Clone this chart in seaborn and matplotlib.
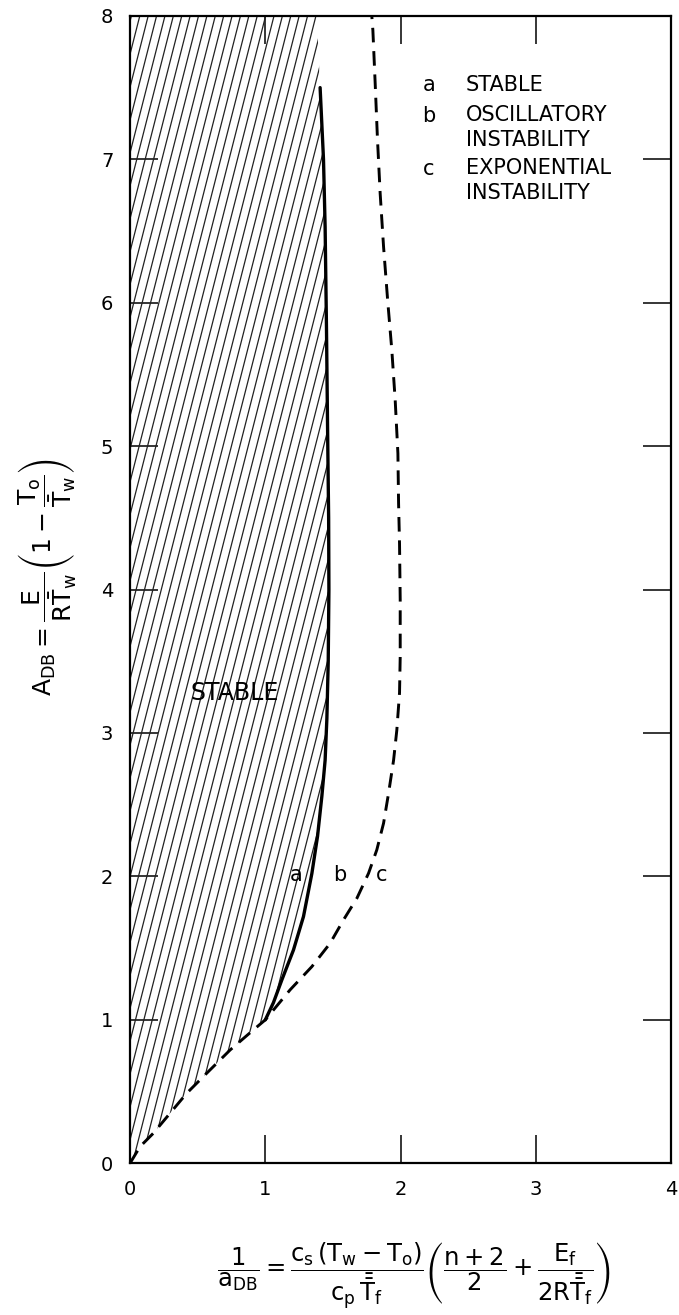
import numpy as np
import pandas as pd
import matplotlib
matplotlib.use("Agg")
import matplotlib.pyplot as plt
from matplotlib.patches import Polygon
from matplotlib.collections import LineCollection
import seaborn as sns

# ---------------- data ----------------
# dashed boundary (curve c): from origin through (1,1) and up to the top
dashed_x = [0.000, 0.074, 0.172, 0.296, 0.419, 0.567, 0.740, 0.912, 1.000,
            1.183, 1.344, 1.479, 1.578, 1.677, 1.763, 1.824, 1.874, 1.911,
            1.948, 1.972, 1.992, 1.997, 1.997, 1.992, 1.985, 1.980, 1.960,
            1.935, 1.904, 1.874, 1.849, 1.829, 1.812, 1.795, 1.787]
dashed_y = [0.000, 0.116, 0.209, 0.349, 0.488, 0.628, 0.790, 0.930, 1.000,
            1.209, 1.371, 1.534, 1.697, 1.848, 2.022, 2.185, 2.371, 2.580,
            2.810, 3.020, 3.280, 3.530, 3.930, 4.320, 4.600, 4.950, 5.320,
            5.670, 6.020, 6.390, 6.760, 7.140, 7.530, 7.900, 8.000]
# solid boundary (curve a)
solid_x = [1.000, 1.060, 1.122, 1.208, 1.282, 1.344, 1.386, 1.418, 1.442,
           1.455, 1.465, 1.470, 1.468, 1.460, 1.452, 1.442, 1.430, 1.405]
solid_y = [1.000, 1.120, 1.278, 1.487, 1.720, 2.020, 2.280, 2.560, 2.810,
           3.100, 3.500, 4.000, 4.500, 5.140, 5.830, 6.530, 7.000, 7.500]
hatch_top_x = 1.38          # right end of the hatched (stable) region at y = 8
junction_y = 1.00           # where the solid curve leaves the dashed one

x_ticks = [0, 1, 2, 3, 4]
y_ticks = [0, 1, 2, 3, 4, 5, 6, 7, 8]

curve_letters = ["a", "b", "c"]
curve_letter_x = [1.23, 1.55, 1.86]
curve_letter_y = [2.01, 2.01, 2.01]

legend_letters = ["a", "b", "c"]
legend_texts = ["STABLE", "OSCILLATORY\nINSTABILITY", "EXPONENTIAL\nINSTABILITY"]
legend_letter_y = [7.52, 7.30, 6.93]
legend_block_y = [7.52, 7.22, 6.855]

region_text = "STABLE"
region_text_xy = (0.77, 3.28)

# ---------------- style ----------------
sns.set_theme(style="white")
plt.rcParams["font.family"] = ["DejaVu Sans"]
plt.rcParams["mathtext.fontset"] = "dejavusans"
plt.rcParams["mathtext.default"] = "regular"

fig = plt.figure(figsize=(6.79, 13.15), dpi=100)
ax = fig.add_axes([0.1915, 0.1154, 0.797, 0.8725])

df_dash = pd.DataFrame({"x": dashed_x, "y": dashed_y})
df_solid = pd.DataFrame({"x": solid_x, "y": solid_y})

# hatched stable region
lower = df_dash[df_dash["y"] <= junction_y]
poly_pts = (list(zip(lower["x"], lower["y"])) + list(zip(solid_x, solid_y))
            + [(hatch_top_x, y_ticks[-1]), (x_ticks[0], y_ticks[-1])])
poly = Polygon(poly_pts, closed=True, facecolor="none", edgecolor="none")
ax.add_patch(poly)
slope = 3.7
offsets = np.arange(-2.4, 1.6, 0.062)
segs = [[(c, 0.0), (c + 8.0 / slope, 8.0)] for c in offsets]
lc = LineCollection(segs, colors="#222222", linewidths=0.9)
ax.add_collection(lc)
lc.set_clip_path(poly)

sns.lineplot(data=df_dash, x="x", y="y", sort=False, estimator=None, ax=ax,
             color="black", linewidth=2.1, linestyle=(0, (5, 3)))
sns.lineplot(data=df_solid, x="x", y="y", sort=False, estimator=None, ax=ax,
             color="black", linewidth=2.4)

ax.set_xlim(x_ticks[0], x_ticks[-1])
ax.set_ylim(y_ticks[0], y_ticks[-1])
ax.set_xticks(x_ticks)
ax.set_yticks(y_ticks)
ax.set_xticklabels([str(t) for t in x_ticks])
ax.set_yticklabels([str(t) for t in y_ticks])
ax.tick_params(direction="in", length=20, width=1.1, top=True, right=True,
               bottom=True, left=True, labelsize=14, pad=12, color="black",
               labelcolor="black")
for s in ax.spines.values():
    s.set_visible(True)
    s.set_color("black")
    s.set_linewidth(1.6)

# texts
ax.text(region_text_xy[0], region_text_xy[1], region_text, ha="center", va="center",
        fontsize=17, color="black")
for l, x, y in zip(curve_letters, curve_letter_x, curve_letter_y):
    ax.text(x, y, l, ha="center", va="center", fontsize=15, color="black")
for l, t, ly, by in zip(legend_letters, legend_texts, legend_letter_y, legend_block_y):
    ax.text(2.21, ly, l, ha="center", va="center", fontsize=15, color="black")
    ax.text(2.48, by, t, ha="left", va="center", fontsize=15, color="black",
            linespacing=1.3)

ax.set_ylabel(r"$A_{DB} = \dfrac{E}{R\bar{T}_w}\left(1-\dfrac{T_o}{\bar{T}_w}\right)$",
              fontsize=18, color="black")
ax.yaxis.set_label_coords(-0.096, 0.511)
ax.set_xlabel(r"$\dfrac{1}{a_{DB}} = \dfrac{c_s\,(T_w-T_o)}{c_p\,\bar{\bar{T}}_f}"
              r"\left(\dfrac{n+2}{2}+\dfrac{E_f}{2R\bar{\bar{T}}_f}\right)$",
              fontsize=17.5, color="black")
ax.xaxis.set_label_coords(0.524, -0.067)

fig.savefig("out.png", dpi=100)
